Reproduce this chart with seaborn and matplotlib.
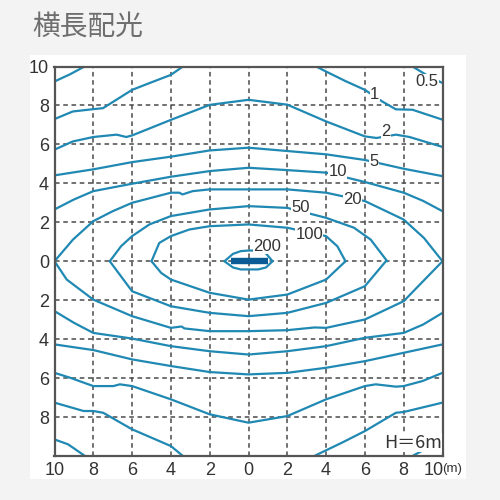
import matplotlib
matplotlib.use("Agg")
import matplotlib.pyplot as plt
from matplotlib import font_manager
from matplotlib.patches import Rectangle
from matplotlib.transforms import ScaledTranslation
import seaborn as sns
import pandas as pd

# ---------------- data ----------------
# level 0.5
c05_tl_x = [-10, -9.2, -8.45];          c05_tl_y = [9.23, 9.6, 10]
c05_tr_x = [8.45, 9.2, 10];             c05_tr_y = [10, 9.55, 9.15]
c05_bl_x = [-10, -9.3, -8.43];          c05_bl_y = [-9.15, -9.4, -10]
c05_br_x = [8.45, 9.2, 10];             c05_br_y = [-10, -9.6, -9.2]
# level 1
c1_tl_x = [-10, -9.06, -8, -7.5, -6, -5.1, -4, -3.38]
c1_tl_y = [7.3, 7.69, 7.81, 7.86, 8.8, 9.15, 9.57, 10]
c1_tr_x = [3.49, 4, 5, 6, 6.9, 7.6, 8.45, 10]
c1_tr_y = [10, 9.74, 9.25, 8.8, 8.2, 7.8, 7.78, 7.27]
c1_bl_x = [-10, -8.5, -8, -7.49, -6, -4, -3.38]
c1_bl_y = [-7.26, -7.69, -7.69, -7.78, -8.63, -9.49, -10]
c1_br_x = [3.39, 4.85, 6, 7.6, 8, 10]
c1_br_y = [-10, -9.3, -8.72, -7.78, -7.74, -7.26]
# level 2
c2_t_x = [-10, -9.06, -8, -6.8, -6.3, -6, -4, -2, 0, 2, 4, 6, 6.6, 7.6, 8.3, 10]
c2_t_y = [5.73, 6.15, 6.38, 6.5, 6.38, 6.46, 7.26, 8.03, 8.29, 8.04, 7.18, 6.41, 6.33, 6.5, 6.38, 5.87]
c2_b_x = [-10, -9.2, -8, -6.97, -6.63, -6, -4, -2, 0, 2, 4, 6, 6.56, 7.6, 8, 8.97, 10]
c2_b_y = [-5.73, -5.98, -6.41, -6.41, -6.32, -6.41, -7.09, -7.86, -8.29, -7.95, -7.09, -6.41, -6.32, -6.44, -6.41, -6.15, -5.73]
# level 5
c5_x = [-10, -8, -6, -4, -2, 0, 2, 4, 6, 8, 10]
c5_t_y = [4.41, 4.72, 5.09, 5.37, 5.69, 5.83, 5.66, 5.49, 5.2, 4.75, 4.37]
c5_b_y = [-4.27, -4.56, -5.04, -5.38, -5.69, -5.81, -5.73, -5.47, -5.13, -4.7, -4.27]
# level 10
c10_x = [-10, -9, -8, -6, -4, -2, 0, 2, 4, 6, 8, 9, 10]
c10_t_y = [2.66, 3.17, 3.6, 3.98, 4.34, 4.63, 4.8, 4.68, 4.55, 4.07, 3.52, 3.1, 2.57]
c10_b_y = [-2.56, -3.16, -3.68, -3.97, -4.36, -4.62, -4.79, -4.62, -4.36, -3.93, -3.68, -3.25, -2.65]
# level 20
c20_t_x = [-10, -9.05, -8, -7, -6, -4, -3.57, -3.4, -2.88, -2, 0, 2, 4, 6, 8, 9.04, 10]
c20_t_y = [0, 1.11, 2.06, 2.57, 3.0, 3.52, 3.52, 3.43, 3.6, 3.69, 3.69, 3.69, 3.52, 3.09, 2.14, 1.2, 0]
c20_b_x = [-10, -9.37, -8, -6, -4, -3.45, -3.3, -2, 0, 2, 3.4, 4, 6, 8, 10]
c20_b_y = [0, -0.94, -1.97, -2.82, -3.42, -3.35, -3.45, -3.59, -3.59, -3.54, -3.4, -3.42, -2.99, -2.05, 0]
# level 50
c50_t_x = [-7.15, -6.57, -6, -5.11, -4, -2, 0, 2, 4, 5.44, 6.3, 7.15]
c50_t_y = [0, 0.77, 1.29, 1.89, 2.32, 2.66, 2.83, 2.74, 2.23, 1.72, 1.11, 0]
c50_b_x = [-7.15, -6, -4, -2, 0, 2, 4, 6, 7.08]
c50_b_y = [0, -1.54, -2.31, -2.65, -2.82, -2.65, -2.14, -1.28, 0]
# level 100
c100_t_x = [-5.0, -4.6, -4, -3.05, -2, 0, 2, 4, 4.58, 5.0]
c100_t_y = [0, 0.94, 1.29, 1.63, 1.8, 1.89, 1.72, 1.29, 0.77, 0]
c100_b_x = [-5.0, -4.5, -4, -2, 0, 2, 4, 5.0]
c100_b_y = [0, -0.6, -0.94, -1.62, -1.97, -1.71, -0.94, 0]
# level 200
c200_x = [-1.24, -0.8, -0.4, 0, 0.5, 0.9, 1.24]
c200_t_y = [0, 0.38, 0.52, 0.55, 0.55, 0.4, 0]
c200_b_y = [0, -0.32, -0.42, -0.42, -0.42, -0.32, 0]
bar_x = [-0.92, 1.02]
bar_y = [0, 0]

# contour labels
lab_text = ["0.5", "1", "2", "5", "10", "20", "50", "100", "200"]
lab_x = [9.2, 6.5, 7.08, 6.48, 4.59, 5.36, 2.7, 3.13, 0.95]
lab_y = [9.23, 8.54, 6.67, 5.13, 4.62, 3.16, 2.74, 1.37, 0.77]

tick_vals = [-10, -8, -6, -4, -2, 0, 2, 4, 6, 8, 10]
x_tick_labels = ["10", "8", "6", "4", "2", "0", "2", "4", "6", "8", "10"]
y_tick_labels = ["", "8", "6", "4", "2", "0", "2", "4", "6", "8", "10"]

title_text = "横長配光"
height_text = "H＝6m"
unit_text = "(m)"

# ---------------- build long table ----------------
segments = [
    (c05_tl_x, c05_tl_y), (c05_tr_x, c05_tr_y), (c05_bl_x, c05_bl_y), (c05_br_x, c05_br_y),
    (c1_tl_x, c1_tl_y), (c1_tr_x, c1_tr_y), (c1_bl_x, c1_bl_y), (c1_br_x, c1_br_y),
    (c2_t_x, c2_t_y), (c2_b_x, c2_b_y),
    (c5_x, c5_t_y), (c5_x, c5_b_y),
    (c10_x, c10_t_y), (c10_x, c10_b_y),
    (c20_t_x, c20_t_y), (c20_b_x, c20_b_y),
    (c50_t_x, c50_t_y), (c50_b_x, c50_b_y),
    (c100_t_x, c100_t_y), (c100_b_x, c100_b_y),
    (c200_x, c200_t_y), (c200_x, c200_b_y),
]
rows = []
for i, (xs, ys) in enumerate(segments):
    for k, (xv, yv) in enumerate(zip(xs, ys)):
        rows.append({"seg": i, "order": k, "x": xv, "y": yv})
df = pd.DataFrame(rows)
bar_df = pd.DataFrame({"x": bar_x, "y": bar_y, "seg": [0, 0]})

# ---------------- fonts ----------------
avail = {f.name for f in font_manager.fontManager.ttflist}
narrow = "Liberation Sans Narrow" if "Liberation Sans Narrow" in avail else "Liberation Sans"
num_family = [narrow, "DejaVu Sans"]
cjk_family = ["Noto Sans CJK JP", "DejaVu Sans"]

sns.set_theme(style="white")
plt.rcParams["font.family"] = num_family

LINE = "#2089b3"
BAR = "#0b5c96"
GRID = "#4a4a4a"

fig = plt.figure(figsize=(5, 5), dpi=100, facecolor="#f3f3f3")
fig.patches.append(Rectangle((30 / 500, 21 / 500), 436 / 500, 424 / 500,
                             transform=fig.transFigure, facecolor="white",
                             edgecolor="none", zorder=-5))
ax = fig.add_axes([54.5 / 500, 44 / 500, 388 / 500, 389.5 / 500])
ax.set_zorder(2)
ax.set_facecolor("white")

sns.lineplot(data=df, x="x", y="y", units="seg", estimator=None, sort=False,
             color=LINE, lw=1.6, ax=ax, legend=False, zorder=3,
             solid_capstyle="round", solid_joinstyle="round")
sns.lineplot(data=bar_df, x="x", y="y", units="seg", estimator=None, sort=False,
             color=BAR, lw=4.6, ax=ax, legend=False, zorder=4,
             solid_capstyle="butt")

ax.set_xlim(-10, 10)
ax.set_ylim(-10, 10)
ax.set_xticks(tick_vals)
ax.set_yticks(tick_vals)
ax.set_xticklabels(x_tick_labels)
ax.set_yticklabels(y_tick_labels)
ax.tick_params(axis="both", length=0, labelsize=13, colors="#333333", pad=4)
last = ax.get_xticklabels()[-1]
last.set_transform(last.get_transform() + ScaledTranslation(-9 / 100, 0, fig.dpi_scale_trans))
ax.set_xlabel("")
ax.set_ylabel("")
ax.grid(True, color=GRID, linestyle=(0, (3, 2.4)), lw=1.1, zorder=1)
ax.set_axisbelow(True)
for s in ax.spines.values():
    s.set_visible(True)
    s.set_color("#555555")
    s.set_linewidth(1.6)
    s.set_zorder(5)

for t, xv, yv in zip(lab_text, lab_x, lab_y):
    ax.text(xv, yv, t, fontsize=12, color="#333333", ha="center", va="center",
            zorder=6, bbox=dict(facecolor="white", edgecolor="none", pad=0.3))

ax.text(8.46, -9.31, height_text, fontsize=13, color="#333333", ha="center",
        va="center", family=cjk_family, zorder=6,
        bbox=dict(facecolor="white", edgecolor="none", pad=0.5))

fig.text(442 / 500, 1 - 469 / 500, unit_text, fontsize=9.5, color="#333333",
         ha="left", va="center")
fig.text(32 / 500, 1 - 27 / 500, title_text, fontsize=20, color="#6e6e6e",
         ha="left", va="center", family=cjk_family)

fig.savefig("out.png", dpi=100, facecolor=fig.get_facecolor())
